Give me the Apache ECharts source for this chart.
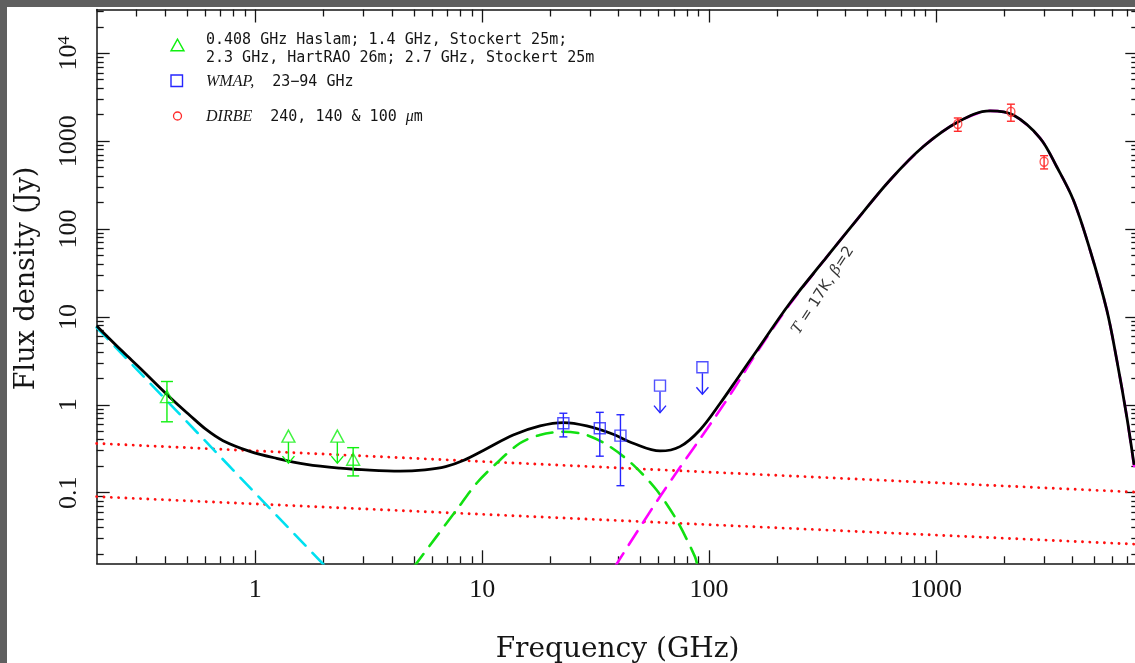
<!DOCTYPE html>
<html>
<head>
<meta charset="utf-8">
<script src="https://cdn.jsdelivr.net/npm/echarts@6/dist/echarts.min.js"></script>
<style>
  html, body { margin: 0; padding: 0; width: 1135px; height: 663px; overflow: hidden; background: #5f5f5f; }
  #chart { position: absolute; left: 7px; top: 7px; width: 1140px; height: 656px; background: #ffffff; }
</style>
</head>
<body>
<div id="chart"></div>
<script>
// ---- Measurements -------------------------------------------------------
// Radio surveys: 0.408 GHz Haslam, 1.4 GHz Stockert, 2.3 GHz HartRAO, 2.7 GHz Stockert
const radioFreq  = [0.408, 1.4, 2.3, 2.7];
const radioFlux  = [1.24, 0.44, 0.44, 0.24];
const radioErr   = [0.6, 0, 0, 0.085];
const radioLimit = [0, 1, 1, 0];          // 1 = upper limit

// WMAP 23-94 GHz
const wmapFreq  = [22.8, 33.0, 40.7, 60.8, 93.5];
const wmapFlux  = [0.616, 0.54, 0.445, 1.65, 2.67];
const wmapErr   = [0.185, 0.28, 0.325, 0, 0];
const wmapLimit = [0, 0, 0, 1, 1];

// DIRBE 240, 140 & 100 micron
const dirbeFreq = [1249, 2141, 2998];
const dirbeFlux = [1565, 2160, 583];
const dirbeErr  = [270, 475, 100];

// ---- Model components ---------------------------------------------------
// total model (solid black)
const totalFreq = [0.2, 0.261, 0.31, 0.427, 0.514, 0.609, 0.721, 0.946, 1.24, 1.68, 2.36, 3.2, 4.35,
  5.6, 6.9, 8.25, 10.5, 13.7, 18.0, 22.8, 28.9, 37.8, 46.3, 60.8, 74.4, 91.2, 112, 137, 162, 227, 319,
  448, 628, 880, 1255, 1732, 2194, 2877, 3409, 4035, 4780, 5664, 6270, 6939, 7472];
const totalFlux = [7.9, 4.0, 2.62, 1.17, 0.76, 0.52, 0.39, 0.295, 0.246, 0.210, 0.190, 0.180, 0.1755,
  0.182, 0.198, 0.232, 0.318, 0.453, 0.574, 0.626, 0.574, 0.462, 0.365, 0.298, 0.334, 0.517, 1.04, 2.2, 4.1, 14.3, 43,
  127, 361, 868, 1663, 2210, 1982, 1085, 511, 214, 57.7, 12.0, 3.23, 0.732, 0.207];

// synchrotron (cyan dashed)
const syncFreq = [0.2, 2.0];
const syncFlux = [7.57, 0.0152];

// spinning dust (green dashed)
const spinFreq = [5.0, 6.29, 7.71, 9.45, 11.57, 14.66, 17.96, 22.76, 28.86, 36.56, 46.33, 58.75, 71.96, 86.67, 89];
const spinFlux = [0.0143, 0.0316, 0.0636, 0.128, 0.216, 0.365, 0.453, 0.494, 0.453, 0.334, 0.207, 0.107, 0.0489, 0.0187, 0.0145];

// thermal dust, T = 17 K, beta = 2 (magenta dashed)
const dustFreq = [38.5, 60.75, 104.3, 127.8, 162, 227, 319, 448, 628, 880, 1255, 1732, 2194, 2877,
  3409, 4035, 4780, 5664, 6270, 6939, 7472];
const dustFlux = [0.0144, 0.090, 0.672, 1.47, 3.9, 13.9, 43, 127, 361, 868, 1663, 2210, 1982, 1085,
  511, 214, 57.7, 12.0, 3.23, 0.732, 0.2];

// free-free levels (red dotted)
const ffHighFreq = [0.2, 7800];
const ffHighFlux = [0.363, 0.101];
const ffLowFreq  = [0.2, 7800];
const ffLowFlux  = [0.090, 0.0258];

// dust temperature annotation anchor
const dustLabelAt = [318, 20];
const dustLabelText = '{it|T} = 17K, {it|β}=2';

// ---- Axes ---------------------------------------------------------------
const xRange = [0.2, 7800];
const yRange = [0.0157, 31500];
const xTickValues = [1, 10, 100, 1000];
const xTickLabels = ['1', '10', '100', '1000'];
const yTickValues = [0.1, 1, 10, 100, 1000, 10000];
const yTickLabels = ['0.1', '1', '10', '100', '1000', '10{sup|4}'];

const legendLines = [
  '0.408 GHz Haslam; 1.4 GHz, Stockert 25m;',
  '2.3 GHz, HartRAO 26m; 2.7 GHz, Stockert 25m',
  '{it|WMAP,}  23\u221294 GHz',
  '{it|DIRBE}  240, 140 & 100 {it|\u03bc}m'
];

function minorTicks(lo, hi) {
  const out = [];
  for (let e = -3; e <= 5; e++) {
    for (let m = 2; m <= 9; m++) {
      const v = m * Math.pow(10, e);
      if (v > lo && v < hi) out.push(v);
    }
  }
  return out;
}
function pickLabel(values, labels) {
  return function (v) {
    let best = 0, bd = Infinity;
    values.forEach((t, i) => {
      const d = Math.abs(Math.log10(v) - Math.log10(t));
      if (d < bd) { bd = d; best = i; }
    });
    return bd < 0.01 ? labels[best] : '';
  };
}
const pair = (xs, ys) => xs.map((x, i) => [x, ys[i]]);

const INK = '#151515';
const serif = 'Liberation Serif';
const axisBase = {
  type: 'log', logBase: 10, gridIndex: 0,
  splitLine: { show: false }, minorTick: { show: false }, minorSplitLine: { show: false },
  axisPointer: { show: false }
};
function xAxisDef(position, major, withLabels) {
  return Object.assign({}, axisBase, {
    min: xRange[0], max: xRange[1], position: position,
    axisLine: { show: major, onZero: false, lineStyle: { color: INK, width: 1.5 } },
    axisTick: { show: true, inside: true, length: major ? 13 : 7,
      customValues: major ? xTickValues : minorTicks(xRange[0], xRange[1]),
      lineStyle: { color: INK, width: 1.3 } },
    axisLabel: { show: withLabels, customValues: xTickValues, margin: 14,
      formatter: pickLabel(xTickValues, xTickLabels),
      fontFamily: serif, fontSize: 26, color: INK }
  });
}
function yAxisDef(position, major, withLabels) {
  return Object.assign({}, axisBase, {
    min: yRange[0], max: yRange[1], position: position,
    axisLine: { show: major, onZero: false, lineStyle: { color: INK, width: 1.5 } },
    axisTick: { show: true, inside: true, length: major ? 13 : 7,
      customValues: major ? yTickValues : minorTicks(yRange[0], yRange[1]),
      lineStyle: { color: INK, width: 1.3 } },
    axisLabel: { show: withLabels, customValues: yTickValues, margin: 15, rotate: 90,
      formatter: pickLabel(yTickValues, yTickLabels),
      fontFamily: serif, fontSize: 26, color: INK,
      rich: { sup: { fontFamily: serif, fontSize: 17, verticalAlign: 'top', color: INK } } }
  });
}

const xAxes = [
  xAxisDef('bottom', true, true), xAxisDef('bottom', false, false),
  xAxisDef('top', true, false), xAxisDef('top', false, false)
];
Object.assign(xAxes[0], {
  name: 'Frequency (GHz)', nameLocation: 'middle', nameGap: 72,
  nameTextStyle: { fontFamily: 'DejaVu Serif', fontSize: 28, color: INK }
});
const yAxes = [
  yAxisDef('left', true, true), yAxisDef('left', false, false),
  yAxisDef('right', true, false), yAxisDef('right', false, false)
];
Object.assign(yAxes[0], {
  name: 'Flux density (Jy)', nameLocation: 'middle', nameGap: 56, nameRotate: 90,
  nameTextStyle: { fontFamily: 'DejaVu Serif', fontSize: 27, color: INK, padding: [0, 0, 0, 16] }
});

// ---- Error bars and upper-limit arrows ----------------------------------
function barRenderer(color, capHalf, symHalf) {
  return function (params, api) {
    const x = api.value(0), y = api.value(1), e = api.value(2), lim = api.value(3);
    const c = api.coord([x, y]);
    const st = { stroke: color, lineWidth: 1.4, fill: null };
    const kids = [];
    if (lim) {
      const tip = c[1] + 27;
      kids.push({ type: 'line', shape: { x1: c[0], y1: c[1] + symHalf, x2: c[0], y2: tip }, style: st });
      kids.push({ type: 'polyline', shape: { points: [[c[0] - 6, tip - 7], [c[0], tip], [c[0] + 6, tip - 7]] }, style: st });
    } else if (e > 0) {
      const hi = api.coord([x, y + e])[1];
      const lo = api.coord([x, y - e])[1];
      kids.push({ type: 'line', shape: { x1: c[0], y1: hi, x2: c[0], y2: lo }, style: st });
      kids.push({ type: 'line', shape: { x1: c[0] - capHalf, y1: hi, x2: c[0] + capHalf, y2: hi }, style: st });
      kids.push({ type: 'line', shape: { x1: c[0] - capHalf, y1: lo, x2: c[0] + capHalf, y2: lo }, style: st });
    }
    return { type: 'group', children: kids };
  };
}
function barData(fs, vs, es, ls) {
  return fs.map((f, i) => [f, vs[i], es[i], ls ? ls[i] : 0]);
}

const GREEN = '#10f010', BLUE = '#2626ff', RED = '#ff2a2a';

function modelLine(name, xs, ys, color, type, width, z, smooth) {
  return {
    name: name, type: 'line', data: pair(xs, ys), xAxisIndex: 0, yAxisIndex: 0,
    showSymbol: false, symbol: 'none', smooth: smooth, clip: true, z: z, silent: true,
    lineStyle: { color: color, width: width, type: type, cap: type === 'solid' ? 'butt' : 'round' }
  };
}

const series = [
  modelLine('free-free high', ffHighFreq, ffHighFlux, '#ff1010', [0.01, 7.3], 2.9, 2, false),
  modelLine('free-free low', ffLowFreq, ffLowFlux, '#ff1010', [0.01, 7.3], 2.9, 2, false),
  modelLine('synchrotron', syncFreq, syncFlux, '#00e0f0', [16, 10], 2.6, 3, false),
  modelLine('spinning dust', spinFreq, spinFlux, '#11e011', [16, 10], 2.6, 3, 0.3),
  modelLine('thermal dust', dustFreq, dustFlux, '#ff00ff', [16, 10], 2.6, 3, 0.3),
  modelLine('total', totalFreq, totalFlux, '#000000', 'solid', 2.8, 4, 0.35),
  {
    type: 'custom', name: 'radio bars', data: barData(radioFreq, radioFlux, radioErr, radioLimit),
    renderItem: barRenderer(GREEN, 6, 6), encode: { x: 0, y: 1 }, z: 5, silent: true
  },
  {
    type: 'custom', name: 'wmap bars', data: barData(wmapFreq, wmapFlux, wmapErr, wmapLimit),
    renderItem: barRenderer(BLUE, 4, 6), encode: { x: 0, y: 1 }, z: 5, silent: true
  },
  {
    type: 'custom', name: 'dirbe bars', data: barData(dirbeFreq, dirbeFlux, dirbeErr, null),
    renderItem: barRenderer(RED, 4, 4), encode: { x: 0, y: 1 }, z: 5, silent: true
  },
  {
    type: 'scatter', name: 'radio', data: pair(radioFreq, radioFlux), symbol: 'triangle', symbolSize: [13, 12],
    itemStyle: { color: 'rgba(0,0,0,0)', borderColor: GREEN, borderWidth: 1.4 }, z: 6, silent: true
  },
  {
    type: 'scatter', name: 'WMAP', data: pair(wmapFreq, wmapFlux), symbol: 'rect', symbolSize: 11,
    itemStyle: { color: 'rgba(0,0,0,0)', borderColor: BLUE, borderWidth: 1.4 }, z: 6, silent: true
  },
  {
    type: 'scatter', name: 'DIRBE', data: pair(dirbeFreq, dirbeFlux), symbol: 'circle', symbolSize: [8, 9],
    itemStyle: { color: 'rgba(0,0,0,0)', borderColor: RED, borderWidth: 1.4 }, z: 6, silent: true
  },
  {
    type: 'scatter', name: 'dust label', data: [dustLabelAt], symbolSize: 0, z: 7, silent: true,
    label: {
      show: true, position: 'inside', rotate: 57, formatter: dustLabelText,
      fontFamily: 'DejaVu Sans', fontSize: 15, color: '#000',
      rich: { it: { fontFamily: 'DejaVu Serif', fontStyle: 'italic', fontSize: 15, color: '#000' } }
    }
  }
];

// ---- Key (top-left) ------------------------------------------------------
const mono = 'DejaVu Sans Mono';
const keyRich = { it: { fontFamily: serif, fontStyle: 'italic', fontSize: 16, color: INK } };
const keyText = (txt, y) => ({
  type: 'text', x: 199, y: y,
  style: { text: txt, fontFamily: mono, fontSize: 15, fill: INK, verticalAlign: 'middle', rich: keyRich }
});
const graphic = [
  { type: 'polygon', shape: { points: [[170.5, 32.2], [164, 43.8], [177, 43.8]] },
    style: { fill: null, stroke: GREEN, lineWidth: 1.4 } },
  keyText(legendLines[0], 33.5),
  keyText(legendLines[1], 51),
  { type: 'rect', shape: { x: 164, y: 68, width: 11.5, height: 11.5 },
    style: { fill: null, stroke: BLUE, lineWidth: 1.4 } },
  keyText(legendLines[2], 75),
  { type: 'ellipse', shape: { cx: 170.5, cy: 109, rx: 4, ry: 4 },
    style: { fill: null, stroke: RED, lineWidth: 1.3 } },
  keyText(legendLines[3], 110)
];

const chart = echarts.init(document.getElementById('chart'), null, { renderer: 'canvas' });
chart.setOption({
  animation: false,
  backgroundColor: '#ffffff',
  grid: { left: 89.7, right: 8.7, top: 2.5, bottom: 99.7, containLabel: false, outerBoundsMode: 'none' },
  xAxis: xAxes,
  yAxis: yAxes,
  series: series,
  graphic: graphic
});
</script>
</body>
</html>
